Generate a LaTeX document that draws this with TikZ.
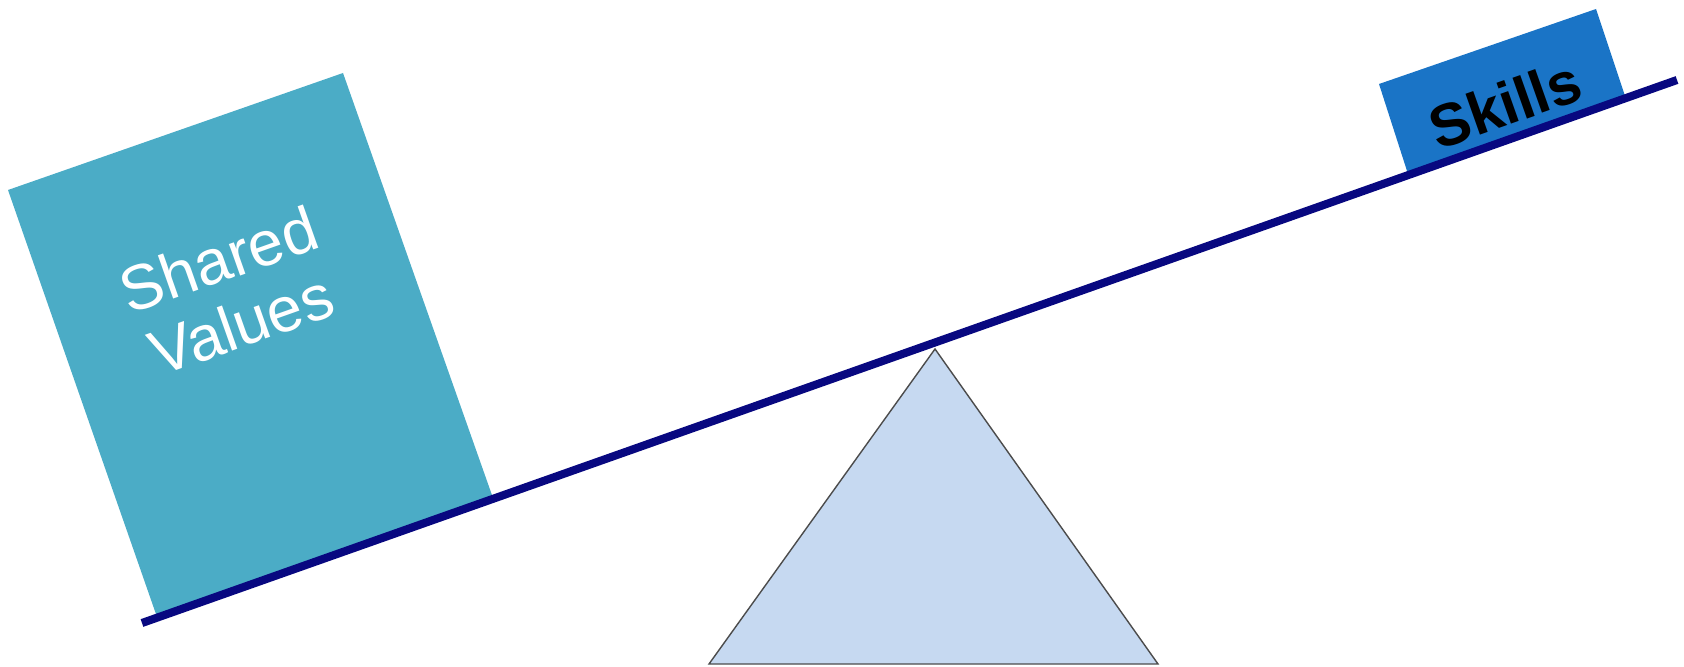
\documentclass[tikz,border=0pt]{standalone}
\usepackage{fontspec}
\setmainfont{Liberation Sans}
\usepackage{graphicx}
\definecolor{valblue}{RGB}{75,172,198}
\definecolor{skillblue}{RGB}{26,116,198}
\definecolor{pivotfill}{RGB}{198,217,241}
\definecolor{beamnavy}{RGB}{8,8,128}
\tikzset{
    beam/.style={draw=beamnavy, line width=2.3pt},
    pivot/.style={draw=black!70, fill=pivotfill, line width=0.4pt},
    lbl/.style={inner sep=0pt}
}

\begin{document}
\begin{tikzpicture}[x=0.01cm, y=0.01cm]
    \useasboundingbox (0,0) rectangle (1684,666);
    \coordinate (bl) at (142,43);
    \coordinate (br) at (1677,586);
    \coordinate (top) at (935,317);
    \coordinate (fl) at (709,2);
    \coordinate (fr) at (1158,2);

    \fill[valblue] (157,49) -- (493,168) -- (343,593) -- (8,476) -- cycle;
    \fill[skillblue] (1408,492) -- (1626,567) -- (1596,657) -- (1379,582) -- cycle;

    \node[lbl, text=white, font=\fontsize{18}{19.5}\selectfont] (svt) at (233,366)
        {\rotatebox{19.48}{\begin{tabular}{@{}c@{}}Shared\\Values\end{tabular}}};
    \node[lbl, font=\fontsize{17}{17}\selectfont\bfseries] (skt) at (1505,562)
        {\rotatebox{19.48}{Skills}};

    \draw[pivot] (fl) -- (top) -- (fr) -- cycle;
    \draw[beam] (bl) -- (br);
\end{tikzpicture}
\end{document}
